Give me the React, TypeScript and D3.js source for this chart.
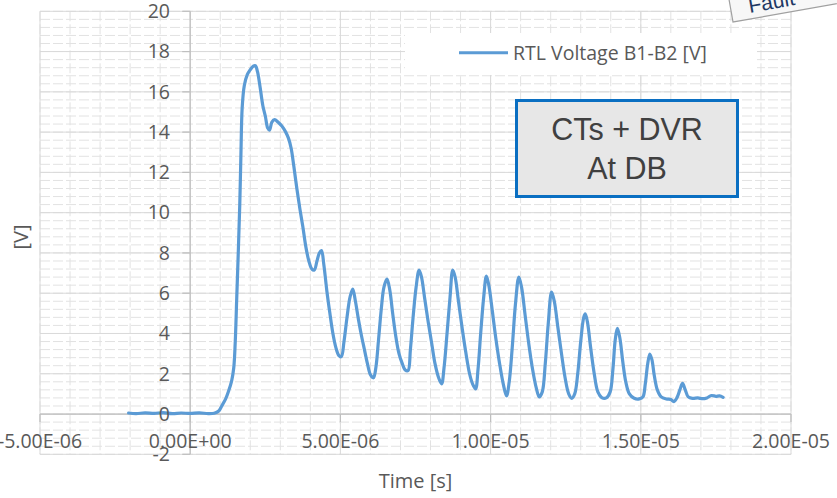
import React from "react";
import * as d3 from "d3";

// RTL voltage transient, time in microseconds
const timeUs: number[] = [
  -2.05, -1.8, -1.5, -1.2, -0.9, -0.6, -0.3, 0.0, 0.3, 0.6, 0.8, 0.95, 1.05, 1.18, 1.28, 1.38,
  1.45, 1.5, 1.55, 1.6, 1.65, 1.69, 1.73, 1.8, 1.9, 2.0, 2.1, 2.17, 2.24, 2.33, 2.42, 2.5, 2.58,
  2.64, 2.72, 2.81, 2.92, 3.05, 3.18, 3.27, 3.36, 3.45, 3.55, 3.65, 3.75, 3.85, 3.95, 4.05, 4.13,
  4.22, 4.3, 4.37, 4.45, 4.55, 4.65, 4.75, 4.85, 4.95, 5.03, 5.12, 5.22, 5.32, 5.41, 5.5, 5.6, 5.7,
  5.8, 5.9, 6.0, 6.1, 6.18, 6.27, 6.36, 6.45, 6.55, 6.64, 6.74, 6.85, 6.95, 7.06, 7.15, 7.25, 7.33,
  7.42, 7.52, 7.62, 7.7, 7.8, 7.92, 8.04, 8.15, 8.27, 8.37, 8.45, 8.55, 8.65, 8.74, 8.82, 8.93,
  9.05, 9.17, 9.3, 9.4, 9.5, 9.58, 9.67, 9.77, 9.86, 9.94, 10.05, 10.17, 10.3, 10.42, 10.53, 10.62,
  10.72, 10.83, 10.94, 11.03, 11.15, 11.27, 11.4, 11.52, 11.62, 11.72, 11.82, 11.92, 12.03, 12.12,
  12.24, 12.36, 12.48, 12.6, 12.7, 12.8, 12.9, 13.0, 13.1, 13.15, 13.22, 13.33, 13.45, 13.57, 13.7,
  13.85, 13.98, 14.07, 14.15, 14.22, 14.3, 14.4, 14.5, 14.62, 14.78, 14.95, 15.07, 15.15, 15.23,
  15.3, 15.37, 15.45, 15.55, 15.68, 15.85, 16.0, 16.1, 16.2, 16.3, 16.39, 16.48, 16.58, 16.72, 16.9,
  17.05, 17.2, 17.35, 17.5, 17.62, 17.74,
];

const voltage: number[] = [
  0.05, 0.02, 0.06, 0.03, 0.07, 0.02, 0.05, 0.03, 0.06, 0.02, 0.04, 0.15, 0.4, 0.75, 1.15, 1.65,
  2.3, 3.6, 5.8, 8.0, 10.4, 13.0, 15.2, 16.3, 16.85, 17.1, 17.28, 17.3, 17.0, 16.2, 15.3, 14.8, 14.2,
  14.1, 14.5, 14.62, 14.5, 14.3, 14.0, 13.7, 13.2, 12.3, 11.2, 10.2, 9.3, 8.3, 7.6, 7.2, 7.15,
  7.6, 8.0, 8.12, 7.4, 6.1, 5.0, 4.0, 3.3, 2.9, 2.85, 3.6, 4.8, 5.8, 6.2, 5.6, 4.7, 3.9,
  3.2, 2.5, 1.95, 1.8, 2.3, 3.7, 5.2, 6.3, 6.7, 6.2, 5.0, 3.8, 3.0, 2.5, 2.2, 2.15, 3.2,
  4.8, 6.3, 7.15, 6.8, 5.8, 4.6, 3.5, 2.5, 1.8, 1.5, 2.3, 4.0, 5.8, 7.15, 6.8, 5.6,
  4.3, 3.1, 2.0, 1.5, 1.25, 2.2, 4.0, 5.8, 6.85, 6.4, 5.2, 3.8, 2.5, 1.5, 0.9, 1.6,
  3.3, 5.5, 6.8, 6.3, 4.9, 3.5, 2.2, 1.3, 0.85, 1.1, 2.5, 4.5, 6.05, 5.6,
  4.3, 3.0, 1.8, 1.0, 0.78, 1.0, 2.0, 3.6, 4.8, 4.97, 4.6, 3.3, 2.0, 1.1, 0.82,
  0.8, 1.1, 2.2, 3.7, 4.25, 3.8, 2.6, 1.6, 1.0, 0.78, 0.75, 0.85, 1.5, 2.5,
  2.98, 2.7, 1.9, 1.2, 0.85, 0.75, 0.72, 0.62, 0.8, 1.2, 1.52, 1.2, 0.85, 0.78, 0.8,
  0.76, 0.8, 0.92, 0.88, 0.9, 0.83,
];

const xTickValues: number[] = [-5e-6, 0, 5e-6, 1e-5, 1.5e-5, 2e-5];
const yTickValues: number[] = [-2, 0, 2, 4, 6, 8, 10, 12, 14, 16, 18, 20];

const seriesName = "RTL Voltage B1-B2 [V]";
const xTitle = "Time [s]";
const yTitle = "[V]";
const noteLines: string[] = ["CTs + DVR", "At DB"];
const cornerNote = "Fault";

const W = 837;
const H = 498;
const plot = { left: 40, right: 791, top: 11.3, bottom: 454.3 };

const x = d3.scaleLinear().domain([-5e-6, 2e-5]).range([plot.left, plot.right]);
const y = d3.scaleLinear().domain([-2, 20]).range([plot.bottom, plot.top]);

// Scientific format in the style "5.00E-06"
function sci(v: number): string {
  if (v === 0) return "0.00E+00";
  const [m, e] = v.toExponential(2).split("e");
  const exp = parseInt(e, 10);
  const sign = exp < 0 ? "-" : "+";
  const digits = String(Math.abs(exp)).padStart(2, "0");
  return `${m}E${sign}${digits}`;
}

const minorX: number[] = d3.range(-5, 20.001, 1).map((u) => u * 1e-6);
const minorY: number[] = d3.range(-2, 20.001, 0.4);

const points: [number, number][] = timeUs.map((t, i) => [t * 1e-6, voltage[i]]);

const line = d3
  .line<[number, number]>()
  .x((d) => x(d[0]))
  .y((d) => y(d[1]))
  .curve(d3.curveCatmullRom.alpha(0.5));

const font = "'Open Sans', sans-serif";
const textColor = "#595959";

export default function App() {
  return (
    <svg
      width={W}
      height={H}
      viewBox={`0 0 ${W} ${H}`}
      style={{ position: "absolute", left: 0, top: 0, background: "#fff" }}
    >
      <rect x={0} y={0} width={W} height={H} fill="#fff" />

      {/* minor gridlines */}
      <g stroke="#e2e2e2" strokeWidth={1} strokeDasharray="10,3">
        {minorX.map((v, i) => (
          <line key={`mx${i}`} x1={x(v)} x2={x(v)} y1={plot.top} y2={plot.bottom} />
        ))}
        {minorY.map((v, i) => (
          <line key={`my${i}`} x1={plot.left} x2={plot.right} y1={y(v)} y2={y(v)} />
        ))}
      </g>

      {/* major gridlines */}
      <g stroke="#d9d9d9" strokeWidth={1}>
        {xTickValues.map((v, i) => (
          <line key={`gx${i}`} x1={x(v)} x2={x(v)} y1={plot.top} y2={plot.bottom} />
        ))}
        {yTickValues.map((v, i) => (
          <line key={`gy${i}`} x1={plot.left} x2={plot.right} y1={y(v)} y2={y(v)} />
        ))}
      </g>

      {/* axes through the origin */}
      <g stroke="#bfbfbf" strokeWidth={1.2}>
        <line x1={x(0)} x2={x(0)} y1={plot.top} y2={plot.bottom} />
        <line x1={plot.left} x2={plot.right} y1={y(0)} y2={y(0)} />
        {yTickValues.map((v, i) => (
          <line key={`ty${i}`} x1={x(0) - 8} x2={x(0)} y1={y(v)} y2={y(v)} />
        ))}
        {xTickValues.map((v, i) => (
          <line key={`tx${i}`} x1={x(v)} x2={x(v)} y1={y(0)} y2={y(0) + 8} />
        ))}
      </g>

      {/* legend */}
      <rect x={405} y={33} width={352} height={42} fill="#fff" />
      <line x1={459} x2={508} y1={52.7} y2={52.7} stroke="#5b9bd5" strokeWidth={3} />
      <text x={513} y={59.5} fontFamily={font} fontSize={19.5} fill={textColor}>
        {seriesName}
      </text>

      {/* data line */}
      <path d={line(points) ?? ""} fill="none" stroke="#5b9bd5" strokeWidth={3.2} strokeLinejoin="round" strokeLinecap="round" />

      {/* tick labels */}
      <g fontFamily={font} fontSize={19.5} fill={textColor}>
        {yTickValues.map((v, i) => (
          <text key={`ly${i}`} x={170} y={y(v)} dy="0.35em" textAnchor="end">
            {v}
          </text>
        ))}
        {xTickValues.map((v, i) => (
          <text key={`lx${i}`} x={x(v)} y={448} textAnchor="middle">
            {sci(v)}
          </text>
        ))}
      </g>

      {/* axis titles */}
      <text x={(plot.left + plot.right) / 2} y={488} textAnchor="middle" fontFamily={font} fontSize={20} fill={textColor}>
        {xTitle}
      </text>
      <text
        transform={`translate(28, ${237}) rotate(-90)`}
        textAnchor="middle"
        fontFamily={font}
        fontSize={20}
        fill={textColor}
      >
        {yTitle}
      </text>

      {/* annotation box */}
      <rect x={516.5} y={100.5} width={221} height={96} fill="#e7e7e7" stroke="#0a6fc2" strokeWidth={3} />
      <text x={627} y={139.5} textAnchor="middle" fontFamily="'Liberation Sans', Arial, sans-serif" fontSize={30.5} fill="#404040">
        {noteLines[0]}
      </text>
      <text x={627} y={178.5} textAnchor="middle" fontFamily="'Liberation Sans', Arial, sans-serif" fontSize={30.5} fill="#404040">
        {noteLines[1]}
      </text>

      {/* tilted note in the corner */}
      <g transform="translate(733, 22) rotate(-10)">
        <rect x={0} y={-70} width={150} height={70} fill="#f7f7f7" stroke="#a0a0a0" strokeWidth={1.2} />
        <text x={18} y={-6} fontFamily="'Liberation Sans', Arial, sans-serif" fontSize={21} fill="#1f3864">
          {cornerNote}
        </text>
      </g>
    </svg>
  );
}
